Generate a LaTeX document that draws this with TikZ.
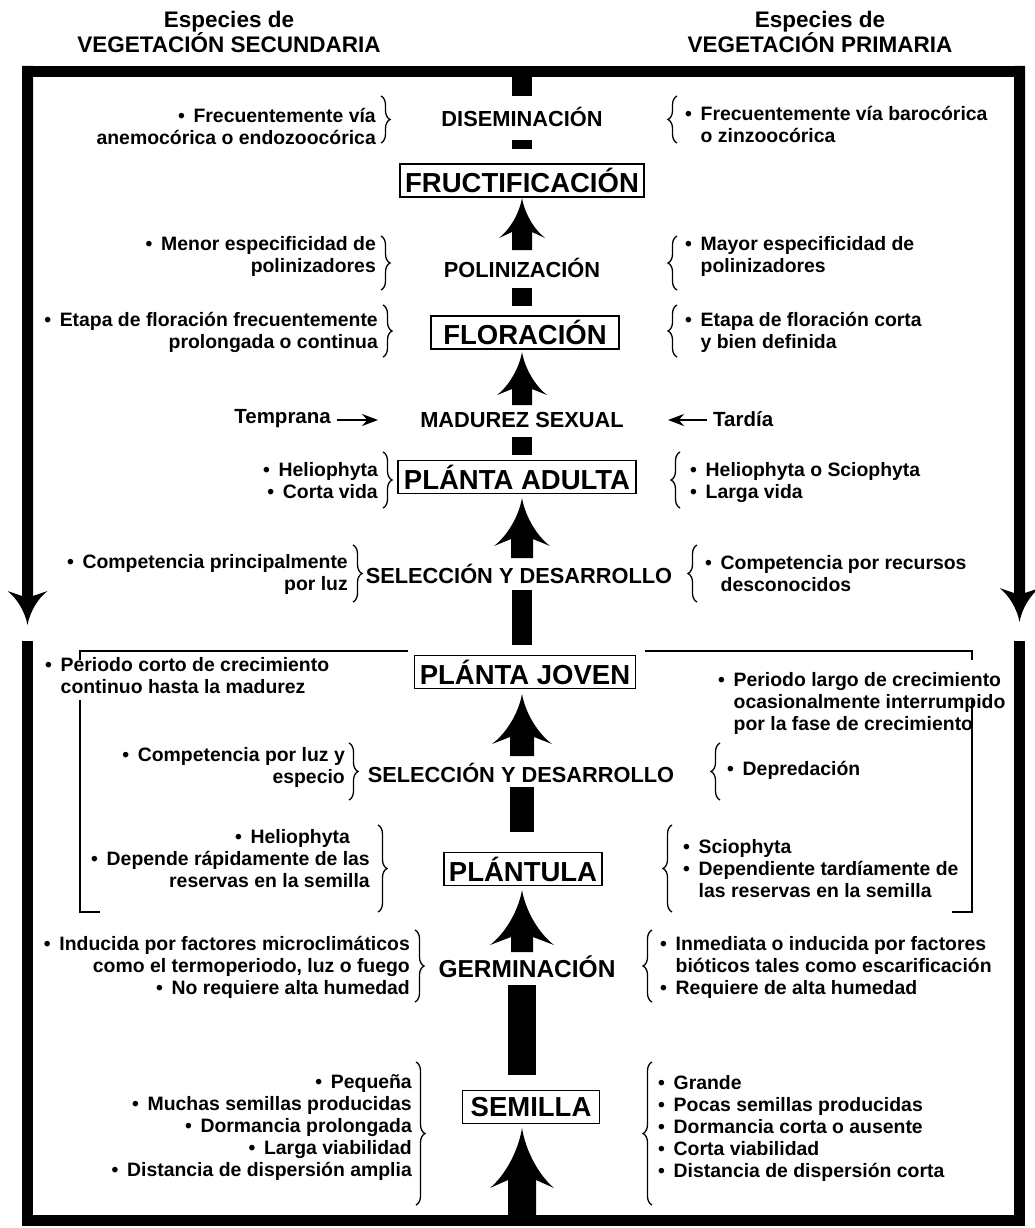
\documentclass[tikz,border=0pt]{standalone}
\usepackage{fontspec}
\setmainfont{Liberation Sans}
\usetikzlibrary{calc,decorations.pathreplacing,arrows.meta}
\newcommand\bu{•\hspace{0.45em}}
\newcommand\hb{\hphantom{\bu}}
% upward block arrow: #1 tip, #2 base, #3 shaft half width, #4 head half width, #5 head length, #6 barb setback
\newcommand\uparr[6]{%
\fill (#1) .. controls ($(#1)+(0.12*#4pt,-0.4*#5pt)$) and ($(#1)+(0.55*#4pt,-0.8*#5pt)$) .. ($(#1)+(#4pt,-#5pt)$)
 -- ($(#1)+(#3pt,-#5pt+#6pt)$) -- ($(#1|-#2)+(#3pt,0pt)$) -- ($(#1|-#2)+(-#3pt,0pt)$)
 -- ($(#1)+(-#3pt,-#5pt+#6pt)$) -- ($(#1)+(-#4pt,-#5pt)$)
 .. controls ($(#1)+(-0.55*#4pt,-0.8*#5pt)$) and ($(#1)+(-0.12*#4pt,-0.4*#5pt)$) .. cycle;}
\newcommand\downarr[6]{%
\fill (#1) .. controls ($(#1)+(0.12*#4pt,0.4*#5pt)$) and ($(#1)+(0.55*#4pt,0.8*#5pt)$) .. ($(#1)+(#4pt,#5pt)$)
 -- ($(#1)+(#3pt,#5pt-#6pt)$) -- ($(#1|-#2)+(#3pt,0pt)$) -- ($(#1|-#2)+(-#3pt,0pt)$)
 -- ($(#1)+(-#3pt,#5pt-#6pt)$) -- ($(#1)+(-#4pt,#5pt)$)
 .. controls ($(#1)+(-0.55*#4pt,0.8*#5pt)$) and ($(#1)+(-0.12*#4pt,0.4*#5pt)$) .. cycle;}
\tikzset{
 ttl/.style={font=\bfseries\fontsize{22.5}{24}\selectfont, align=center, inner sep=0pt},
 lab/.style={font=\bfseries\fontsize{21.8}{24}\selectfont, inner sep=1pt},
 box/.style={draw, line width=1.3pt, fill=white, font=\bfseries\fontsize{27.5}{30}\selectfont, inner xsep=5pt, inner ysep=0pt, minimum height=33pt},
 itm/.style={font=\bfseries\fontsize{19.4}{22}\selectfont, inner sep=0pt},
 rb/.style={decorate, decoration={brace, amplitude=9pt}, line width=1.3pt},
 thinl/.style={line width=1.3pt},
 sarr/.style={line width=1.8pt, -{Stealth[length=16pt,width=12pt]}}
}
\begin{document}
\begin{tikzpicture}[x=1pt,y=-1pt]
\useasboundingbox (0,0) rectangle (1034,1228);
% titles
\node[ttl] (tl) at (229,32) {Especies de\\VEGETACIÓN SECUNDARIA};
\node[ttl] (tr) at (820,32) {Especies de\\VEGETACIÓN PRIMARIA};
% frame
\fill (22,66) rectangle (1025,77);
\fill (22,1215) rectangle (1025,1226);
\fill (22,641) rectangle (33,1226);
\fill (1014,641) rectangle (1025,1226);
\coordinate (lt) at (27.5,625); \coordinate (ltop) at (27.5,66);
\coordinate (rt) at (1019.5,622); \coordinate (rtop) at (1019.5,66);
\downarr{lt}{ltop}{5.5}{20}{34}{5}
\downarr{rt}{rtop}{5.5}{20}{34}{5}
% central nodes
\node[lab] (dis) at (522,117) {DISEMINACIÓN};
\node[box, minimum width=242pt] (fruct) at (522,180.5) {FRUCTIFICACIÓN};
\node[lab] (pol) at (522,268) {POLINIZACIÓN};
\node[box, minimum width=188pt] (flor) at (525,332.5) {FLORACIÓN};
\node[lab] (mad) at (522,420) {MADUREZ SEXUAL};
\node[box, minimum width=238pt] (adul) at (517,477) {PLÁNTA ADULTA};
\node[lab] (sel1) at (519,574) {SELECCIÓN Y DESARROLLO};
\node[box, minimum width=219pt] (jov) at (525,672) {PLÁNTA JOVEN};
\node[lab] (sel2) at (521,773) {SELECCIÓN Y DESARROLLO};
\node[box, minimum width=153pt] (plu) at (523,869) {PLÁNTULA};
\node[lab, font=\bfseries\fontsize{24.5}{26}\selectfont] (ger) at (527,967) {GERMINACIÓN};
\node[box, minimum width=137pt] (sem) at (531,1107) {SEMILLA};
% shaft segments
\fill (512,77) rectangle (532,96);
\fill (512,140) rectangle (532,149);
\fill (512,288) rectangle (532,306);
\fill (512,437) rectangle (532,455);
\fill (512,590) rectangle (532,645);
\fill (510,787) rectangle (534,832);
\fill (508,985) rectangle (536,1075);
% arrows
\coordinate (a1t) at (522,198); \coordinate (a1b) at (522,250);
\uparr{a1t}{a1b}{10}{23}{40}{6}
\coordinate (a2t) at (522,352); \coordinate (a2b) at (522,405);
\uparr{a2t}{a2b}{10}{25}{43}{6}
\coordinate (a3t) at (522,498); \coordinate (a3b) at (522,558);
\uparr{a3t}{a3b}{11}{28}{48}{7}
\coordinate (a4t) at (522,694); \coordinate (a4b) at (522,756);
\uparr{a4t}{a4b}{12}{30}{50}{7}
\coordinate (a5t) at (522,890); \coordinate (a5b) at (522,952);
\uparr{a5t}{a5b}{11}{32}{55}{8}
\coordinate (a6t) at (522,1128); \coordinate (a6b) at (522,1215);
\uparr{a6t}{a6b}{14}{32}{60}{8}
% DISEMINACION
\node[itm, anchor=east, align=right] (l1) at (376,126) {\bu Frecuentemente vía\\anemocórica o endozoocórica};
\draw[rb] (381,96) -- (381,143);
\draw[rb] (677,143) -- (677,96);
\node[itm, anchor=west, align=left] (r1) at (685,124) {\bu Frecuentemente vía barocórica\\\hb o zinzoocórica};
% POLINIZACION
\node[itm, anchor=east, align=right] (l2) at (376,256) {\bu Menor especificidad de\\polinizadores};
\draw[rb] (381,236) -- (381,290);
\draw[rb] (677,290) -- (677,236);
\node[itm, anchor=west, align=left] (r2) at (685,256) {\bu Mayor especificidad de\\\hb polinizadores};
% FLORACION
\node[itm, anchor=east, align=right] (l3) at (378,332) {\bu Etapa de floración frecuentemente\\prolongada o continua};
\draw[rb] (383,305) -- (383,357);
\draw[rb] (677,357) -- (677,305);
\node[itm, anchor=west, align=left] (r3) at (685,332) {\bu Etapa de floración corta\\\hb y bien definida};
% MADUREZ
\node[itm, font=\bfseries\fontsize{20.5}{22}\selectfont, anchor=east] (temp) at (331,419) {Temprana};
\coordinate (tempe) at (378,420);
\draw[sarr] ($(temp.east)+(6,1)$) -- (tempe);
\node[itm, font=\bfseries\fontsize{20.5}{22}\selectfont, anchor=west] (tard) at (713,419) {Tardía};
\coordinate (tarde) at (668,420);
\draw[sarr] ($(tard.west)+(-6,1)$) -- (tarde);
% ADULTA
\node[itm, anchor=east, align=right] (l4) at (378,481) {\bu Heliophyta\\\bu Corta vida};
\draw[rb] (383,452) -- (383,508);
\draw[rb] (680,508) -- (680,452);
\node[itm, anchor=west, align=left] (r4) at (690,483) {\bu Heliophyta o Sciophyta\\\bu Larga vida};
% SELECCION 1
\node[itm, anchor=east, align=right] (l5) at (348,574) {\bu Competencia principalmente\\por luz};
\draw[rb] (353,545) -- (353,602);
\draw[rb] (697,602) -- (697,545);
\node[itm, anchor=west, align=left] (r5) at (705,574) {\bu Competencia por recursos\\\hb desconocidos};
% brackets
\draw[thinl] (80,660) -- (80,651) -- (408,651);
\draw[thinl] (80,700) -- (80,912) -- (100,912);
\draw[thinl] (645,651) -- (972,651) -- (972,660);
\draw[thinl] (972,700) -- (972,912) -- (952,912);
% JOVEN
\node[itm, anchor=west, align=left] (l6) at (45,676) {\bu Periodo corto de crecimiento\\\hb continuo hasta la madurez};
\node[itm, anchor=west, align=left] (r6) at (718,703) {\bu Periodo largo de crecimiento\\\hb ocasionalmente interrumpido\\\hb por la fase de crecimiento};
% SELECCION 2
\node[itm, anchor=east, align=right] (l7) at (345,767) {\bu Competencia por luz y\\especio};
\draw[rb] (349,743) -- (349,800);
\draw[rb] (720,800) -- (720,743);
\node[itm, anchor=west] (r7) at (727,770) {\bu Depredación};
% PLANTULA
\node[itm, anchor=east, align=right] (l8) at (370,859) {\bu Heliophyta\hspace*{20pt}\\\bu Depende rápidamente de las\\reservas en la semilla};
\draw[rb] (378,825) -- (378,912);
\draw[rb] (672,912) -- (672,825);
\node[itm, anchor=west, align=left] (r8) at (683,869) {\bu Sciophyta\\\bu Dependiente tardíamente de\\\hb las reservas en la semilla};
% GERMINACION
\node[itm, anchor=east, align=right] (l9) at (410,967) {\bu Inducida por factores microclimáticos\\como el termoperiodo, luz o fuego\\\bu No requiere alta humedad};
\draw[rb] (415,930) -- (415,1002);
\draw[rb] (652,1002) -- (652,930);
\node[itm, anchor=west, align=left] (r9) at (660,967) {\bu Inmediata o inducida por factores\\\hb bióticos tales como escarificación\\\bu Requiere de alta humedad};
% SEMILLA
\node[itm, anchor=east, align=right] (l10) at (412,1128) {\bu Pequeña\\\bu Muchas semillas producidas\\\bu Dormancia prolongada\\\bu Larga viabilidad\\\bu Distancia de dispersión amplia};
\draw[rb] (416,1062) -- (416,1205);
\draw[rb] (652,1205) -- (652,1062);
\node[itm, anchor=west, align=left] (r10) at (658,1128) {\bu Grande\\\bu Pocas semillas producidas\\\bu Dormancia corta o ausente\\\bu Corta viabilidad\\\bu Distancia de dispersión corta};
\end{tikzpicture}
\end{document}
